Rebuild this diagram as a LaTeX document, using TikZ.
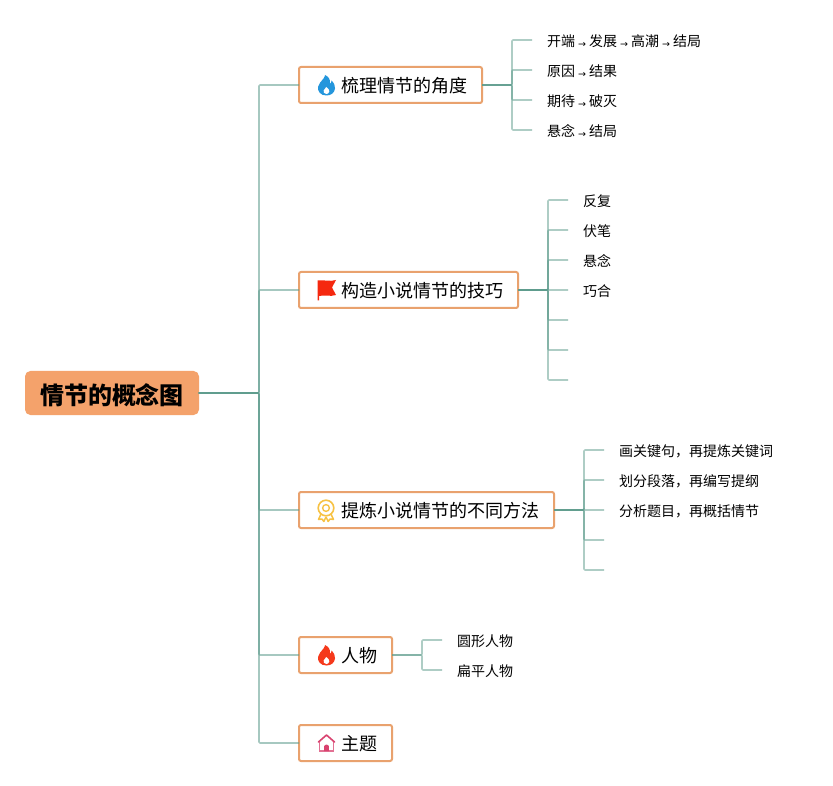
\documentclass[tikz,border=0pt]{standalone}
\usepackage{fontspec}
\setmainfont{Noto Sans CJK SC}
\newfontfamily\arrowfont{DejaVu Sans}
\definecolor{linkc}{HTML}{5E9C8D}
\definecolor{boxc}{HTML}{E9A26E}
\definecolor{rootc}{HTML}{F4A26B}
\definecolor{flameblue}{HTML}{2496DC}
\definecolor{flamered}{HTML}{F5391B}
\definecolor{flagred}{HTML}{F5280F}
\definecolor{medalc}{HTML}{F7C244}
\definecolor{housec}{HTML}{D9426F}
\newcommand{\ar}{\makebox[14pt]{\raisebox{-1.2pt}{\arrowfont\fontsize{9.5}{9.5}\selectfont →}}}
\tikzset{
  x=1pt,y=-1pt,
  rootbox/.style={draw=rootc,fill=rootc,line width=1pt,rounded corners=5pt,minimum width=173pt,minimum height=43pt,inner sep=0,outer sep=0,anchor=west,text height=24pt,text depth=1.8pt,font=\fontsize{24}{24}\selectfont\bfseries},
  subbox/.style={draw=boxc,fill=white,line width=2pt,rounded corners=2pt,minimum height=36pt,inner xsep=0,inner ysep=0,outer sep=0,anchor=west,text height=17pt,text depth=1.4pt,font=\fontsize{18}{18}\selectfont},
  leaf/.style={anchor=west,inner xsep=15pt,inner ysep=0,outer sep=0,font=\fontsize{14}{14}\selectfont,yshift=-1pt},
  trunk/.style={draw=linkc,line width=1.6pt,opacity=.55,line join=round,rounded corners=1pt},
  twig/.style={draw=linkc,line width=1.6pt,opacity=.5,line join=round,rounded corners=1pt},
  pics/flame/.style={code={
    \fill[#1] (0,10) .. controls (-6,10) and (-9,6) .. (-8.5,1.5) .. controls (-8,-2) and (-5,-4) .. (-3,-7) .. controls (-2,-8.5) and (-1.5,-9.5) .. (-1.5,-10.5) .. controls (2,-9) and (4,-6) .. (3.5,-2) .. controls (4.5,-2.5) and (5,-3.5) .. (5,-5) .. controls (7.5,-2.5) and (9,0.5) .. (8.5,3) .. controls (8,7) and (5,10) .. (0,10) -- cycle;
    \fill[white] (0,8.5) .. controls (-2.4,8.5) and (-3.6,6.5) .. (-2.8,5) .. controls (-2,3.8) and (-0.8,3) .. (-0.3,1.5) .. controls (1.6,2.8) and (3.2,4.5) .. (2.8,6) .. controls (2.4,7.6) and (1.2,8.5) .. (0,8.5) -- cycle;
  }},
}
\begin{document}
\begin{tikzpicture}
\useasboundingbox (0,0) rectangle (833,786);
\fill[white] (0,0) rectangle (833,786);

\node[rootbox] (root) at (25.5,393) {情节的概念图};
\node[subbox,minimum width=183pt,text width=183pt] (a) at (299,85) {\hspace*{42pt}梳理情节的角度};
\node[subbox,minimum width=219pt,text width=219pt] (b) at (299,290) {\hspace*{42pt}构造小说情节的技巧};
\node[subbox,minimum width=255pt,text width=255pt] (c) at (299,510) {\hspace*{42pt}提炼小说情节的不同方法};
\node[subbox,minimum width=93pt,text width=93pt] (d) at (299,655) {\hspace*{42pt}人物};
\node[subbox,minimum width=93pt,text width=93pt] (e) at (299,743) {\hspace*{42pt}主题};

\foreach \t in {a,b,c,d,e}
  \draw[trunk] (root.east) -- (259,393) |- (\t.west);

% branch a
\node[leaf] (a1) at (532,40) {开端\ar 发展\ar 高潮\ar 结局};
\node[leaf] (a2) at (532,70) {原因\ar 结果};
\node[leaf] (a3) at (532,100) {期待\ar 破灭};
\node[leaf] (a4) at (532,130) {悬念\ar 结局};
\foreach \t in {a1,a2,a3,a4}
  \draw[twig] (a.east) -- (512,85) |- ([yshift=1pt]\t.west);

% branch b
\node[leaf] (b1) at (568,200) {反复};
\node[leaf] (b2) at (568,230) {伏笔};
\node[leaf] (b3) at (568,260) {悬念};
\node[leaf] (b4) at (568,290) {巧合};
\coordinate (b5) at (568,320);
\coordinate (b6) at (568,350);
\coordinate (b7) at (568,380);
\foreach \t in {b1,b2,b3,b4}
  \draw[twig] (b.east) -- (548,290) |- ([yshift=1pt]\t.west);
\foreach \t in {b5,b6,b7}
  \draw[twig] (b.east) -- (548,290) |- (\t);

% branch c
\node[leaf] (c1) at (604,450) {画关键句，再提炼关键词};
\node[leaf] (c2) at (604,480) {划分段落，再编写提纲};
\node[leaf] (c3) at (604,510) {分析题目，再概括情节};
\coordinate (c4) at (604,540);
\coordinate (c5) at (604,570);
\foreach \t in {c1,c2,c3}
  \draw[twig] (c.east) -- (584,510) |- ([yshift=1pt]\t.west);
\foreach \t in {c4,c5}
  \draw[twig] (c.east) -- (584,510) |- (\t);

% branch d
\node[leaf] (d1) at (442,640) {圆形人物};
\node[leaf] (d2) at (442,670) {扁平人物};
\foreach \t in {d1,d2}
  \draw[twig] (d.east) -- (422,655) |- ([yshift=1pt]\t.west);

% icons
\pic at (326.5,85.5) {flame={flameblue}};
\pic at (326.5,655.5) {flame={flamered}};
% flag
\fill[flagred] (317.5,280.5) .. controls (323,279.5) and (330,282) .. (336,280) -- (332,287.5) -- (336,295) .. controls (330,297) and (325,294.5) .. (319,296) -- (319,300.5) -- (317.5,300.5) -- cycle;
% medal
\begin{scope}[shift={(326,508)}]
  \draw[medalc,line width=1.5pt,line join=round] (-5,6) -- (-7.5,11.5) -- (-4,11) -- (-2.2,13.5) -- (0,9);
  \draw[medalc,line width=1.5pt,line join=round] (5,6) -- (7.5,11.5) -- (4,11) -- (2.2,13.5) -- (0,9);
  \draw[medalc,line width=1.6pt,fill=white] (0,0) circle (7.8);
  \draw[medalc,line width=1.4pt] (0,0) circle (3.4);
\end{scope}
% house
\begin{scope}[shift={(326.5,743)}]
  \draw[housec!75!white,line width=1.4pt,line join=round] (-7.5,8) -- (7.5,8) (-6.8,8) -- (-6.8,-1) (6.8,8) -- (6.8,-1);
  \draw[housec,line width=1.6pt,line join=round,line cap=round] (-8,-1) -- (0,-8) -- (8,-1);
  \fill[housec] (-2.4,8) -- (-2.4,3.5) .. controls (-2.4,1) and (2.4,1) .. (2.4,3.5) -- (2.4,8) -- cycle;
\end{scope}
\end{tikzpicture}
\end{document}
